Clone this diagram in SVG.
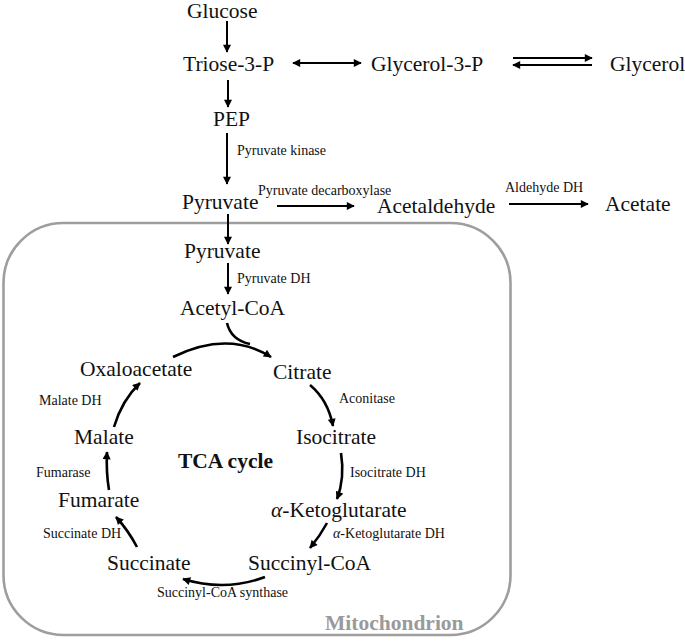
<svg xmlns="http://www.w3.org/2000/svg" width="685" height="642" viewBox="0 0 685 642">
<style>
.n{font-family:"Liberation Serif","Times New Roman",serif;font-size:21.5px;fill:#111}
.e{font-family:"Liberation Serif","Times New Roman",serif;font-size:14px;fill:#111}
.b{font-family:"Liberation Serif","Times New Roman",serif;font-size:21.5px;font-weight:bold;fill:#111}
.m{font-family:"Liberation Serif","Times New Roman",serif;font-size:21.5px;font-weight:bold;fill:#9a9a9a}
.a{fill:none;stroke:#000;stroke-width:2;marker-end:url(#ah)}
.c{fill:none;stroke:#000;stroke-width:2.6;marker-end:url(#ah)}
</style>
<defs>
<marker id="ah" viewBox="0 0 10 10" refX="9" refY="5" markerWidth="9" markerHeight="8" markerUnits="userSpaceOnUse" orient="auto-start-reverse">
<path d="M0,0 L10,5 L0,10 z" fill="#000"/>
</marker>
</defs>
<rect x="3.5" y="223" width="507" height="412" rx="60" ry="60" fill="none" stroke="#9e9e9e" stroke-width="2.6"/>
<g id="connectors">
<path class="a" d="M227,21 L227,52"/>
<path class="a" d="M228,80 L228,107"/>
<path class="a" d="M293,63 L361,63" marker-start="url(#ah)"/>
<path class="a" d="M513,58 L592,58"/>
<path class="a" d="M592,65 L513,65"/>
<path class="a" d="M227,133 L227,184"/>
<path class="a" d="M277,206 L354,206"/>
<path class="a" d="M509,204 L588,204"/>
<path class="a" d="M228,214 L228,244"/>
<path class="a" d="M228,263 L228,294"/>
<path fill="none" stroke="#000" stroke-width="2.6" d="M227,323 Q231,340 250,344"/>
<path class="c" d="M173,357 Q228,330 271,357"/>
<path class="c" d="M310,385 Q328,400 333,426"/>
<path class="c" d="M341,453 Q345,478 337,499"/>
<path class="c" d="M327,523 Q320,536 310,548"/>
<path class="c" d="M265,577 Q225,592 183,579"/>
<path class="c" d="M137,547 Q128,530 116,517"/>
<path class="c" d="M109,490 Q106,472 107,452"/>
<path class="c" d="M114,427 Q122,400 140,383"/>
</g>
<g id="glucose"><text class="n" x="187" y="18">Glucose</text></g>
<g id="triose"><text class="n" x="183" y="71">Triose-3-P</text></g>
<g id="glycerol3p"><text class="n" x="371" y="71">Glycerol-3-P</text></g>
<g id="glycerol"><text class="n" x="610" y="71">Glycerol</text></g>
<g id="pep"><text class="n" x="213" y="126">PEP</text></g>
<g id="pyruvate"><text class="n" x="182" y="209">Pyruvate</text></g>
<g id="acetaldehyde"><text class="n" x="377" y="213">Acetaldehyde</text></g>
<g id="acetate"><text class="n" x="605" y="211">Acetate</text></g>
<g id="pyruvate-mito"><text class="n" x="184" y="258">Pyruvate</text></g>
<g id="acetylcoa"><text class="n" x="180" y="315">Acetyl-CoA</text></g>
<g id="oxaloacetate"><text class="n" x="80" y="376">Oxaloacetate</text></g>
<g id="citrate"><text class="n" x="273" y="379">Citrate</text></g>
<g id="isocitrate"><text class="n" x="296" y="444">Isocitrate</text></g>
<g id="akg"><text class="n" x="271" y="517"><tspan font-style="italic">α</tspan>-Ketoglutarate</text></g>
<g id="succinylcoa"><text class="n" x="248" y="570">Succinyl-CoA</text></g>
<g id="succinate"><text class="n" x="107" y="570">Succinate</text></g>
<g id="fumarate"><text class="n" x="58" y="507">Fumarate</text></g>
<g id="malate"><text class="n" x="74" y="444">Malate</text></g>
<g id="labels">
<text class="e" x="237" y="155">Pyruvate kinase</text>
<text class="e" x="258" y="195">Pyruvate decarboxylase</text>
<text class="e" x="505" y="192">Aldehyde DH</text>
<text class="e" x="237" y="283">Pyruvate DH</text>
<text class="e" x="339" y="403">Aconitase</text>
<text class="e" x="350" y="477">Isocitrate DH</text>
<text class="e" x="333" y="538"><tspan font-style="italic">α</tspan>-Ketoglutarate DH</text>
<text class="e" x="157" y="597">Succinyl-CoA synthase</text>
<text class="e" x="43" y="538">Succinate DH</text>
<text class="e" x="36" y="477">Fumarase</text>
<text class="e" x="39" y="405">Malate DH</text>
<text class="b" x="178" y="468">TCA cycle</text>
<text class="m" x="325" y="630">Mitochondrion</text>
</g>
</svg>
